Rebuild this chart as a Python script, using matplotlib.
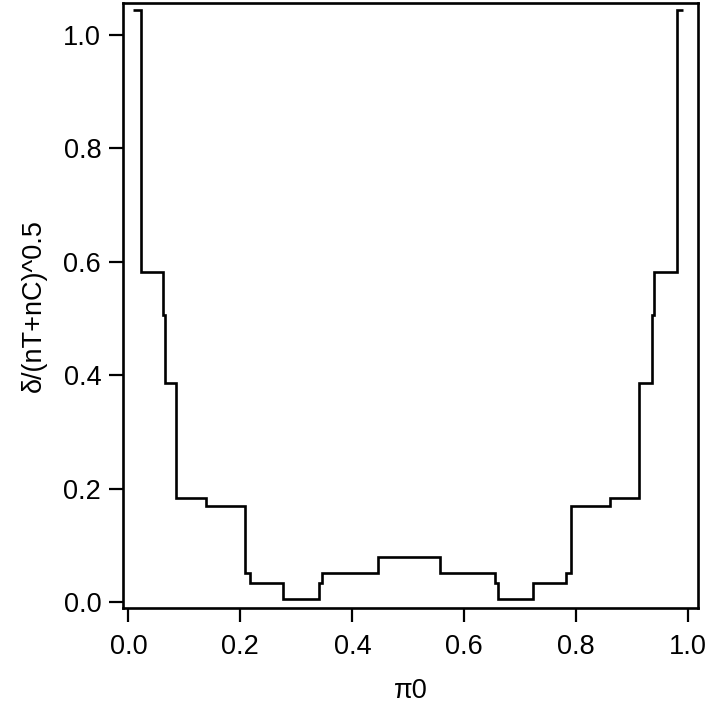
import matplotlib.pyplot as plt
import numpy as np

plt.rcParams['font.family'] = ['Liberation Sans', 'DejaVu Sans']

# step edges along pi0 and the level on each interval
pi0_edges = [0.008, 0.023, 0.0625, 0.066, 0.085, 0.139, 0.208, 0.217, 0.277,
             0.341, 0.345, 0.445, 0.557, 0.655, 0.661, 0.723, 0.781, 0.790,
             0.861, 0.9125, 0.936, 0.938, 0.979, 0.9905]
delta_levels = [1.043, 0.581, 0.506, 0.386, 0.184, 0.170, 0.051, 0.034, 0.005,
                0.034, 0.051, 0.080, 0.051, 0.034, 0.005, 0.034, 0.051, 0.170,
                0.184, 0.386, 0.506, 0.581, 1.043]

x_ticks = [0.0, 0.2, 0.4, 0.6, 0.8, 1.0]
y_ticks = [0.0, 0.2, 0.4, 0.6, 0.8, 1.0]

fig = plt.figure(figsize=(7.09, 7.12), dpi=100)
ax = fig.add_axes([0.174, 0.1465, 0.811, 0.8493])

ax.stairs(delta_levels, pi0_edges, color='black', linewidth=1.9, baseline=None)

ax.set_xlim(-0.0089, 1.018)
ax.set_ylim(-0.010, 1.056)
ax.set_xticks(x_ticks)
ax.set_yticks(y_ticks)
ax.set_xticklabels([f"{v:.1f}" for v in x_ticks])
ax.set_yticklabels([f"{v:.1f}" for v in y_ticks])

for s in ax.spines.values():
    s.set_linewidth(1.9)
ax.tick_params(axis='both', direction='out', length=10, width=1.6, labelsize=19.5)
ax.tick_params(axis='x', pad=9)
ax.tick_params(axis='y', pad=6)

ax.set_xlabel("π0", fontsize=19.5, labelpad=13)
ax.set_ylabel("δ/(nT+nC)^0.5", fontsize=19.5, labelpad=12)

fig.savefig("out.png", dpi=100)
